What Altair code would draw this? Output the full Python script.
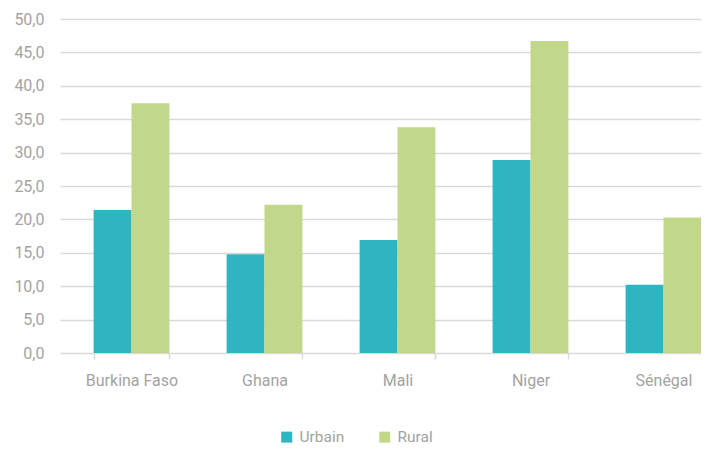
import altair as alt
import pandas as pd

countries = ["Burkina Faso", "Ghana", "Mali", "Niger", "Sénégal"]
urbain = [21.4, 14.8, 16.9, 28.9, 10.2]
rural = [37.4, 22.2, 33.8, 46.7, 20.3]
series = ["Urbain", "Rural"]
colors = ["#2fb5c1", "#c1d78a"]

rows = []
for c, u, r in zip(countries, urbain, rural):
    rows.append({"pays": c, "zone": "Urbain", "valeur": u})
    rows.append({"pays": c, "zone": "Rural", "valeur": r})
df = pd.DataFrame(rows)

FONT = "Roboto"
GRID = "#d9d9d9"
TXT = "#a3a3a3"

chart = (
    alt.Chart(df)
    .mark_bar()
    .encode(
        x=alt.X(
            "pays:N",
            sort=countries,
            title=None,
            scale=alt.Scale(range=[0, 665], paddingInner=0.43, paddingOuter=0.215),
            axis=alt.Axis(
                labelAngle=0,
                domain=False,
                ticks=True,
                tickBand="extent",
                tickSize=6,
                tickColor=GRID,
                tickWidth=1.5,
                labelPadding=13,
                labelFontSize=16,
                labelColor=TXT,
                labelFont=FONT,
                grid=False,
            ),
        ),
        xOffset=alt.XOffset("zone:N", sort=series, scale=alt.Scale(paddingInner=0, paddingOuter=0)),
        y=alt.Y(
            "valeur:Q",
            title=None,
            scale=alt.Scale(domain=[0, 50], nice=False),
            axis=alt.Axis(
                values=[0, 5, 10, 15, 20, 25, 30, 35, 40, 45, 50],
                labelExpr="replace(format(datum.value, '.1f'), '.', ',')",
                domain=False,
                ticks=True,
                tickSize=5,
                tickColor=GRID,
                tickWidth=1.5,
                grid=True,
                gridColor=GRID,
                gridWidth=1.5,
                labelPadding=16,
                labelFontSize=16,
                labelColor=TXT,
                labelFont=FONT,
            ),
        ),
        color=alt.Color(
            "zone:N",
            sort=series,
            scale=alt.Scale(domain=series, range=colors),
            legend=alt.Legend(
                title=None,
                orient="none",
                legendX=214,
                legendY=410,
                direction="horizontal",
                symbolType="square",
                symbolSize=121,
                symbolStrokeWidth=0,
                labelFontSize=15.5,
                labelColor=TXT,
                labelFont=FONT,
                columnPadding=32,
                labelOffset=5,
                padding=0,
            ),
        ),
    )
    .properties(
        width=636,
        height=334,
        autosize=alt.AutoSizeParams(type="none"),
        padding={"left": 57, "top": 11, "right": 0, "bottom": 95},
    )
    .configure_view(stroke=None)
)

chart.save("out.html", embed_options={"renderer": "svg", "actions": False})
